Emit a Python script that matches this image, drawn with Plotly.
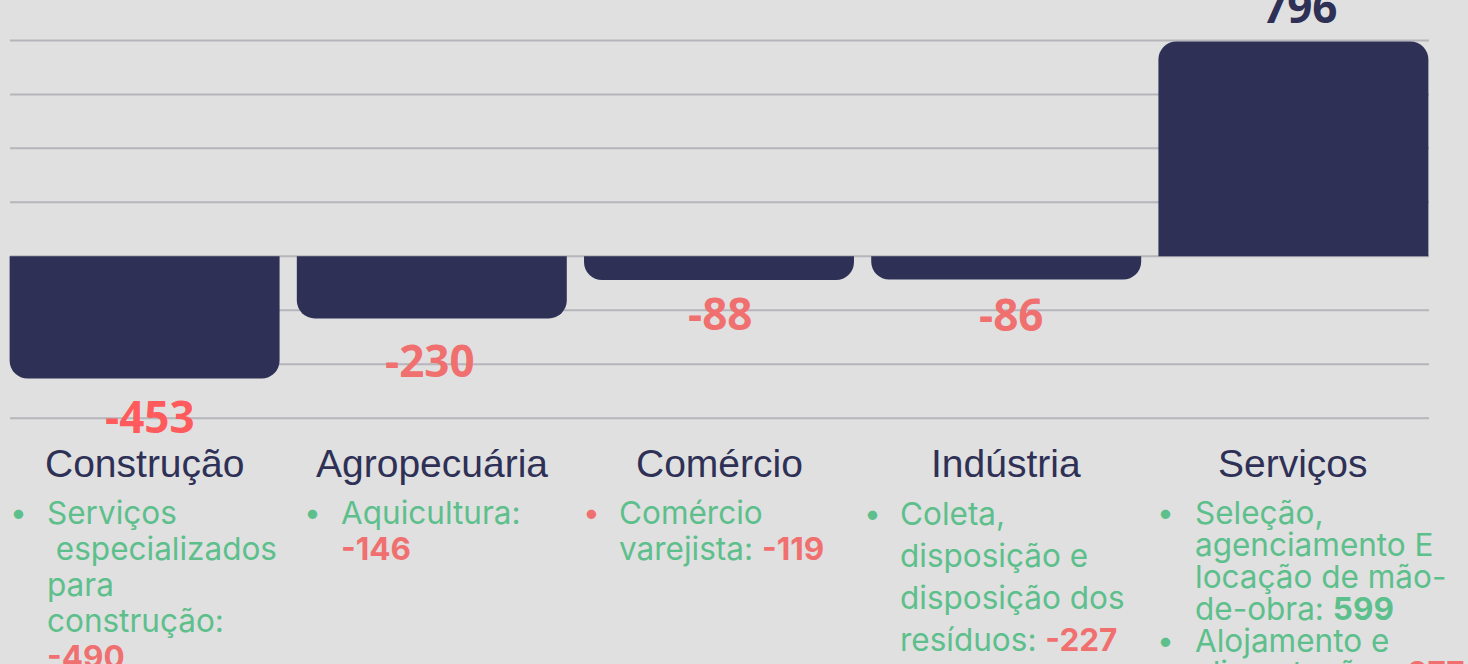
import plotly.graph_objects as go

# ---- data ----
categories = ["Construção", "Agropecuária", "Comércio", "Indústria", "Serviços"]
values = [-453, -230, -88, -86, 796]

sub_lines = [
    ["Serviços", "\u00a0especializados", "para", "construção:", "{v}"],
    ["Aquicultura:", "{v}"],
    ["Comércio", "varejista: {v}"],
    ["Coleta,", "disposição e", "disposição dos", "resíduos: {v}"],
    ["Seleção,", "agenciamento E", "locação de mão-", "de-obra: {v}", "Alojamento e", "alimentação: {v}"],
]
sub_values = [[-490], [-146], [-119], [-227], [599, -277]]
bullet_lines = [[0], [0], [0], [0], [0, 4]]
y_ticks = [-600, -400, -200, 0, 200, 400, 600, 800]

# ---- styles ----
BG = "#e0e0e0"
NAVY = "#2e3056"
GREEN = "#5dbf8b"
RED = "#f07070"
RED_BRIGHT = "#ff5a5c"
GRID = "#b5b5bb"

W, H = 1468, 664
ML, MR, MT, MB = 1, 31, 35, 243
PW = W - ML - MR

fig = go.Figure()
fig.add_trace(go.Bar(
    x=categories, y=values,
    marker=dict(color=NAVY, line=dict(width=0), cornerradius=18),
    hoverinfo="skip",
))

fig.update_layout(
    width=W, height=H,
    paper_bgcolor=BG, plot_bgcolor=BG,
    margin=dict(l=ML, r=MR, t=MT, b=MB, pad=0),
    bargap=0.06,
    showlegend=False,
    xaxis=dict(range=[-0.5, len(categories) - 0.5], autorange=False,
               showticklabels=False, showgrid=False, zeroline=False, showline=False, ticks=""),
    yaxis=dict(range=[-610, 820], autorange=False, showticklabels=False, showgrid=False,
               zeroline=False, showline=False, ticks=""),
)

# horizontal grid lines (from x=10px to x=1429px)
gx0 = (10 - ML) / PW
gx1 = (1429 - ML) / PW
shapes = [dict(type="line", xref="paper", yref="y", x0=gx0, x1=gx1, y0=t, y1=t,
               line=dict(color=GRID, width=2), layer="below") for t in y_ticks]

annotations = []
# value labels
label_shift = [-37, -42, -33, -34, 35]
label_dx = [5, -2, 1, 5, 6]
for i, (c, v) in enumerate(zip(categories, values)):
    if v >= 0:
        col = NAVY
    elif i == 0:
        col = RED_BRIGHT
    else:
        col = RED
    annotations.append(dict(
        x=c, y=v, xref="x", yref="y", text=f"<b>{v}</b>", showarrow=False,
        xanchor="center", yanchor="middle", yshift=label_shift[i], xshift=label_dx[i],
        font=dict(family="Open Sans", size=44, color=col),
    ))

# category names
PLOT_BOTTOM = H - MB
for c in categories:
    annotations.append(dict(
        x=c, y=0, xref="x", yref="paper", text=c, showarrow=False,
        xanchor="center", yanchor="middle", yshift=PLOT_BOTTOM - 463,
        font=dict(family="Liberation Sans, Arial", size=39, color=NAVY),
    ))

# bullet lists
first_line_y = [512, 512, 512, 513, 512]
line_step = [36, 36, 36, 42, 32]
text_dx = [-100, -93, -102, -108, -100]
bullet_dx = [-137, -130, -138, -144, -138]
bullet_color = [GREEN, GREEN, RED, GREEN, GREEN]
FONT_TXT = "Inter, Lato, sans-serif"
for i, c in enumerate(categories):
    vals = iter(sub_values[i])
    for j, line in enumerate(sub_lines[i]):
        if "{v}" in line:
            v = next(vals)
            vc = RED if v < 0 else GREEN
            line = line.replace("{v}", f"<span style='color:{vc}'><b>{v}</b></span>")
        ypix = first_line_y[i] + j * line_step[i]
        annotations.append(dict(
            x=c, y=0, xref="x", yref="paper", text=line, showarrow=False,
            xanchor="left", yanchor="middle", xshift=text_dx[i], yshift=PLOT_BOTTOM - ypix,
            font=dict(family=FONT_TXT, size=31.5, color=GREEN),
        ))
        if j in bullet_lines[i]:
            annotations.append(dict(
                x=c, y=0, xref="x", yref="paper", text="•", showarrow=False,
                xanchor="left", yanchor="middle", xshift=bullet_dx[i], yshift=PLOT_BOTTOM - ypix,
                font=dict(family=FONT_TXT, size=30, color=bullet_color[i]),
            ))

fig.update_layout(annotations=annotations, shapes=shapes)
fig.write_html("out.html", config={"displayModeBar": False},
               post_script="document.body.style.margin='0';document.body.style.overflow='hidden';")
